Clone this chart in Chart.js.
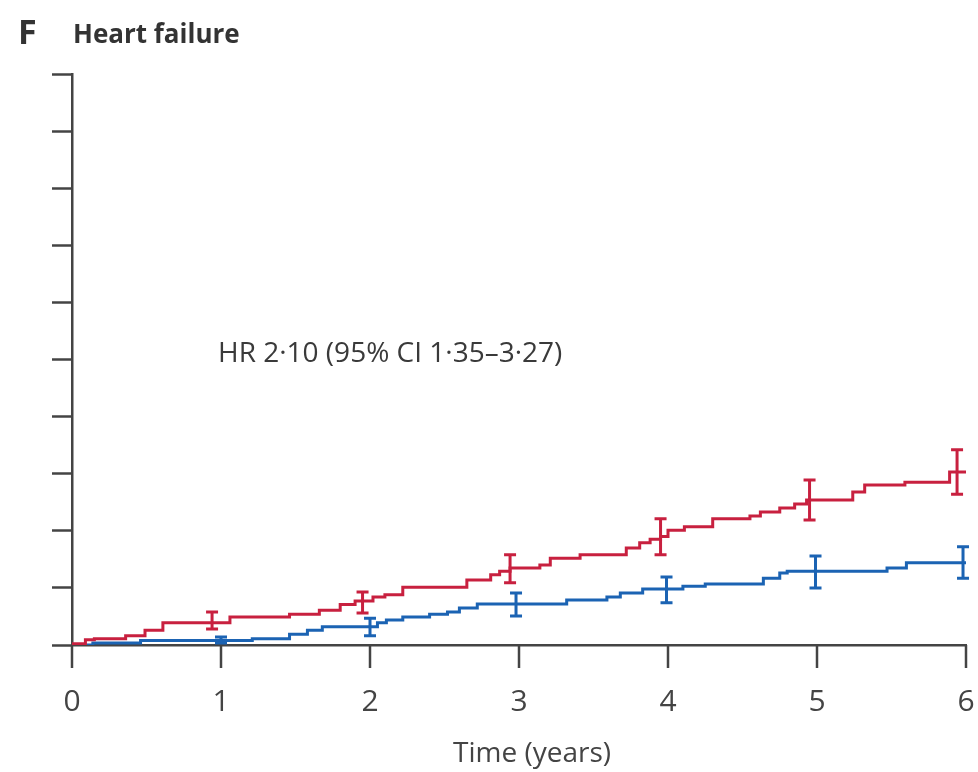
<!DOCTYPE html>
<html>
<head>
<meta charset="utf-8">
<script src="https://cdn.jsdelivr.net/npm/chart.js@4/dist/chart.umd.min.js"></script>
<style>
  html, body { margin: 0; padding: 0; background: #fff; }
  #wrap { width: 978px; height: 772px; }
</style>
</head>
<body>
<div id="wrap"><canvas id="grafico" width="978" height="772"></canvas></div>
<script>
// Dados (tempo em anos, incidência acumulada)
const xTicks = [0, 1, 2, 3, 4, 5, 6];

const redTime = [0, 0.09, 0.15, 0.36, 0.49, 0.61, 1.06, 1.46, 1.66, 1.80, 1.90, 2.02, 2.10, 2.22, 2.65, 2.81, 2.87, 2.94,
  3.14, 3.21, 3.41, 3.72, 3.81, 3.88, 3.95, 4.00, 4.11, 4.30, 4.55, 4.62, 4.75, 4.85, 4.93, 5.24, 5.32, 5.59, 5.89, 6.00];
const redRisk = [0.02, 0.09, 0.11, 0.16, 0.26, 0.39, 0.49, 0.54, 0.61, 0.71, 0.77, 0.84, 0.88, 1.01, 1.14, 1.23, 1.29, 1.35,
  1.40, 1.52, 1.58, 1.70, 1.79, 1.85, 1.90, 2.01, 2.07, 2.21, 2.26, 2.33, 2.40, 2.47, 2.54, 2.68, 2.80, 2.85, 3.03, 3.03];

const blueTime = [0, 0.14, 0.46, 1.21, 1.46, 1.58, 1.68, 2.05, 2.11, 2.22, 2.40, 2.52, 2.60, 2.72, 3.32, 3.59, 3.68, 3.83,
  4.10, 4.25, 4.64, 4.75, 4.80, 5.47, 5.60, 6.00];
const blueRisk = [0, 0.035, 0.08, 0.11, 0.19, 0.26, 0.32, 0.39, 0.44, 0.49, 0.54, 0.58, 0.65, 0.72, 0.79, 0.84, 0.91, 0.98,
  1.03, 1.07, 1.17, 1.26, 1.29, 1.35, 1.44, 1.44];

// Barras de erro (IC 95%)
const redBarTime = [0.94, 1.95, 2.94, 3.95, 4.95, 5.94];
const redBarLow = [0.28, 0.56, 1.09, 1.58, 2.19, 2.64];
const redBarHigh = [0.58, 0.93, 1.58, 2.21, 2.89, 3.42];

const blueBarTime = [1.0, 2.0, 2.98, 3.99, 4.99, 5.98];
const blueBarLow = [0.035, 0.16, 0.51, 0.74, 1.00, 1.17];
const blueBarHigh = [0.14, 0.47, 0.91, 1.19, 1.56, 1.72];

const RED = '#c8203f';
const BLUE = '#1b63b3';
const AXIS = '#444444';
const FONT = "'Open Sans', sans-serif";

function pontos(t, v) {
    return t.map((x, i) => ({ x: x, y: v[i] }));
}

// Plugin: marcas do eixo x, barras de erro, títulos e texto do HR
const extras = {
    id: 'extras',
    afterDatasetsDraw(chart) {
        const ctx = chart.ctx;
        const xs = chart.scales.x, ys = chart.scales.y;
        const barras = [
            [redBarTime, redBarLow, redBarHigh, RED],
            [blueBarTime, blueBarLow, blueBarHigh, BLUE]
        ];
        ctx.save();
        ctx.lineWidth = 3;
        barras.forEach(([t, lo, hi, cor]) => {
            ctx.strokeStyle = cor;
            t.forEach((tt, i) => {
                const px = xs.getPixelForValue(tt);
                const y1 = ys.getPixelForValue(lo[i]);
                const y2 = ys.getPixelForValue(hi[i]);
                ctx.beginPath();
                ctx.moveTo(px, y1); ctx.lineTo(px, y2);
                ctx.moveTo(px - 6, y1); ctx.lineTo(px + 6, y1);
                ctx.moveTo(px - 6, y2); ctx.lineTo(px + 6, y2);
                ctx.stroke();
            });
        });
        ctx.restore();
    },
    afterDraw(chart) {
        const ctx = chart.ctx;
        const xs = chart.scales.x;
        const base = chart.chartArea.bottom;
        ctx.save();
        // marcas do eixo x (para baixo)
        ctx.strokeStyle = AXIS;
        ctx.lineWidth = 2.5;
        xTicks.forEach(v => {
            const px = xs.getPixelForValue(v);
            ctx.beginPath();
            ctx.moveTo(px, base);
            ctx.lineTo(px, base + 23);
            ctx.stroke();
        });
        ctx.fillStyle = '#333';
        ctx.textBaseline = 'alphabetic';
        ctx.font = "bold 34px " + FONT;
        ctx.fillText('F', 18, 44);
        ctx.font = "bold 26px " + FONT;
        ctx.fillText('Heart failure', 73, 43);
        ctx.fillStyle = '#3a3a3a';
        ctx.font = "28px " + FONT;
        ctx.fillText('HR 2·10 (95% CI 1·35–3·27)', 218, 362);
        ctx.fillStyle = '#444';
        ctx.font = "28px " + FONT;
        ctx.textAlign = 'center';
        ctx.fillText('Time (years)', 532, 762);
        ctx.restore();
    }
};

document.addEventListener('DOMContentLoaded', function () {
    new Chart(document.getElementById('grafico').getContext('2d'), {
        type: 'line',
        data: {
            datasets: [{
                data: pontos(redTime, redRisk),
                borderColor: RED,
                borderWidth: 3,
                stepped: 'before',
                pointRadius: 0,
                fill: false
            }, {
                data: pontos(blueTime, blueRisk),
                borderColor: BLUE,
                borderWidth: 3,
                stepped: 'before',
                pointRadius: 0,
                fill: false
            }]
        },
        options: {
            responsive: false,
            animation: false,
            devicePixelRatio: 1,
            layout: { padding: { left: 52, top: 74, right: 12, bottom: 0 } },
            plugins: { legend: { display: false }, tooltip: { enabled: false } },
            scales: {
                x: {
                    type: 'linear',
                    min: 0,
                    max: 6,
                    afterBuildTicks: (s) => { s.ticks = xTicks.map(v => ({ value: v })); },
                    afterFit: (s) => { s.height = 127; s.paddingLeft = 0; s.paddingRight = 0; },
                    grid: { drawOnChartArea: false, drawTicks: false },
                    border: { display: true, color: AXIS, width: 2.5 },
                    ticks: { color: '#444', font: { family: FONT, size: 30 }, padding: 39, maxRotation: 0 }
                },
                y: {
                    min: 0,
                    max: 10,
                    ticks: { display: false, stepSize: 1 },
                    afterFit: (s) => { s.width = 20; },
                    grid: { drawOnChartArea: false, drawTicks: true, tickLength: 20, tickColor: AXIS, tickWidth: 2.5 },
                    border: { display: true, color: AXIS, width: 2.5 }
                }
            }
        },
        plugins: [extras]
    });
});
</script>
</body>
</html>
